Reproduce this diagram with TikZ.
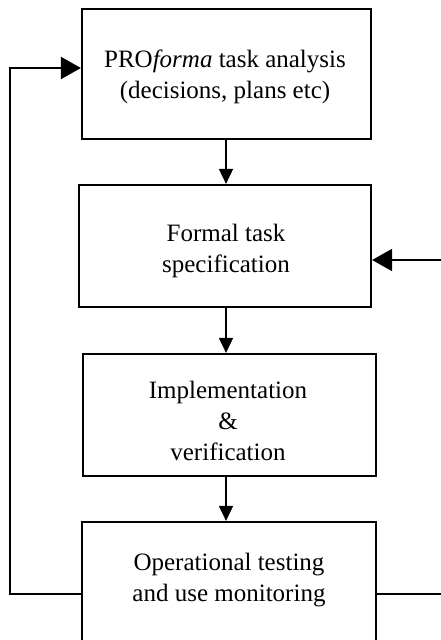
\documentclass[tikz,border=0pt]{standalone}
\usepackage{fontspec}
\setmainfont{Liberation Serif}
\usetikzlibrary{arrows.meta}
\begin{document}
\begin{tikzpicture}[x=1pt,y=-1pt,
  box/.style={draw,line width=2.2pt,inner sep=0pt},
  lbl/.style={align=center,font=\fontsize{25}{31}\selectfont},
  conn/.style={line width=1.8pt},
  downarr/.style={conn,-{Triangle[length=15pt,width=14pt]}},
  sidearr/.style={conn,-{Triangle[length=20pt,width=22pt]}}]
\useasboundingbox (0,0) rectangle (441,640);
\clip (0,0) rectangle (441,640);
% boxes
\node[box,minimum width=289pt,minimum height=130pt] (b1) at (226.5,74) {};
\node[box,minimum width=292pt,minimum height=122pt] (b2) at (225,246) {};
\node[box,minimum width=293pt,minimum height=122pt] (b3) at (229.5,415) {};
\node[box,minimum width=294pt,minimum height=158pt] (b4) at (229,601) {};
% texts
\node[lbl] (t1) at (225,77) {PRO\textit{forma} task analysis\\(decisions, plans etc)};
\node[lbl] (t2) at (226,251) {Formal task\\specification};
\node[lbl] (t3) at (228,421) {Implementation\\\&\\verification};
\node[lbl] (t4) at (229,580) {Operational testing\\and use monitoring};
% coordinates
\coordinate (lb) at (10,594);
\coordinate (lt) at (10,68);
\coordinate (r4) at (441,594);
\coordinate (r2) at (441,260);
% connectors
\draw[downarr] (b1.south -| 226,0) -- (b2.north -| 226,0);
\draw[downarr] (b2.south -| 226,0) -- (b3.north -| 226,0);
\draw[downarr] (b3.south -| 226,0) -- (b4.north -| 226,0);
\draw[sidearr] (lb -| b4.west) -- (lb) -- (lt) -- (lt -| b1.west);
\draw[conn] (r4 -| b4.east) -- (r4);
\draw[sidearr] (r2) -- (r2 -| b2.east);
\end{tikzpicture}
\end{document}
